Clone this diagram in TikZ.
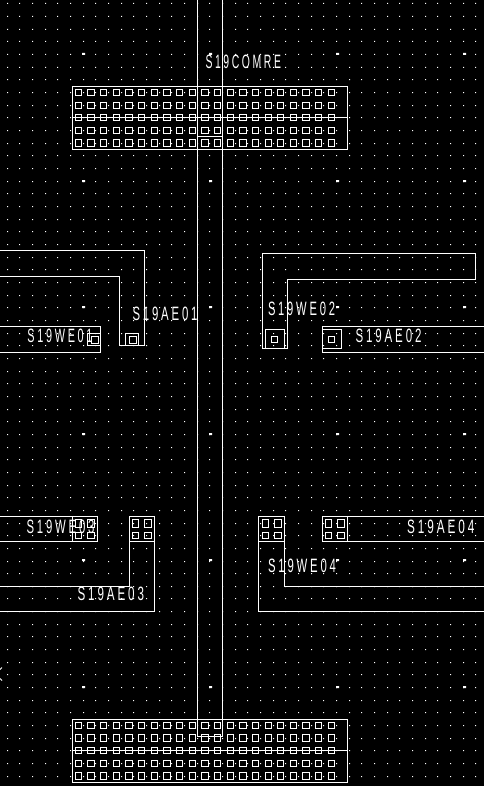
\documentclass[tikz,border=0pt]{standalone}
\usepackage{graphicx}
\usepackage{fontspec}
\setmainfont{Liberation Sans}
\newfontfamily\cadfont[LetterSpace=25]{Liberation Sans}
\tikzset{
  ln/.style={draw=white,line width=1bp,line cap=rect,line join=miter},
  lbl/.style={anchor=north west,inner sep=0pt,outer sep=0pt,text=white}
}
\newcommand{\fitlab}[3]{\resizebox{#1bp}{#2bp}{\fontsize{18}{18}\cadfont #3}}
\newcommand{\padrow}[4]{% x1 x2 y1 y2 : small rectangle
  \draw[ln] (#1,#3) rectangle (#2,#4);}
\begin{document}
\begin{tikzpicture}[x=1bp,y=-1bp]
\useasboundingbox (0,0) rectangle (484,786);
\fill[black] (0,0) rectangle (484,786);
% grid dots
\fill[white]
\foreach \i in {0,...,37}{\foreach \j in {0,...,61}{
  \pgfextra{\pgfmathsetmacro{\dx}{floor(7.3+12.66*\i)}\pgfmathsetmacro{\dy}{round(3.46+12.66*\j)}}
  (\dx,\dy) rectangle ++(1,1)
}};
% coarse grid
\fill[white]
\foreach \bx in {82,209,336,463}{\foreach \by in {53,180,306,433,559,686}{
  (\bx,\by) rectangle ++(3,2)
}};
\begin{scope}[shift={(0.5,0.5)}]
% central bus
\draw[ln] (197,-2) -- (197,736) -- (222,736) -- (222,-2);
\draw[ln] (197,136) -- (222,136);
% top and bottom arrays
\draw[ln] (72,86) rectangle (347,149);
\draw[ln] (72,117) -- (347,117);
\draw[ln] (72,719) rectangle (347,782);
\draw[ln] (72,750) -- (347,750);
\foreach \ya/\yb in {89/95,102/108,114/120,127/133,139/146,722/728,734/741,747/753,760/766,772/779}{
  \foreach \k in {0,...,20}{
    \pgfmathsetmacro{\xa}{floor(75.3+12.65*\k)}
    \pgfmathsetmacro{\xb}{floor(81.6+12.65*\k)}
    \padrow{\xa}{\xb}{\ya}{\yb}
  }
}
% AE01
\draw[ln] (-2,250) -- (144,250) -- (144,345) -- (119,345) -- (119,276) -- (-2,276);
\draw[ln] (125,345) -- (125,333) -- (138,333) -- (138,345);
\draw[ln] (129,336) rectangle (136,343);
% WE01
\draw[ln] (-2,326) -- (100,326) -- (100,352) -- (-2,352);
\draw[ln] (100,345) -- (87,345) -- (87,333) -- (100,333);
\draw[ln] (91,336) rectangle (98,343);
% WE02
\draw[ln] (262,253) -- (475,253) -- (475,279) -- (287,279) -- (287,348) -- (262,348) -- cycle;
\draw[ln] (265,348) -- (265,329) -- (284,329) -- (284,348);
\draw[ln] (271,336) rectangle (277,342);
% AE02
\draw[ln] (486,326) -- (322,326) -- (322,352) -- (486,352);
\draw[ln] (322,329) -- (341,329) -- (341,348) -- (322,348);
\draw[ln] (328,336) rectangle (334,342);
% WE03
\draw[ln] (-2,516) -- (97,516) -- (97,541) -- (-2,541);
\draw[ln] (72,516) -- (72,541);
\draw[ln] (75,519) rectangle (81,527);
\draw[ln] (87,519) rectangle (94,527);
\draw[ln] (75,532) rectangle (81,538);
\draw[ln] (87,532) rectangle (94,538);
% AE03
\draw[ln] (-2,586) -- (129,586) -- (129,516) -- (154,516) -- (154,611) -- (-2,611);
\draw[ln] (129,541) -- (154,541);
\draw[ln] (132,519) rectangle (138,527);
\draw[ln] (144,519) rectangle (151,527);
\draw[ln] (132,532) rectangle (138,538);
\draw[ln] (144,532) rectangle (151,538);
% WE04
\draw[ln] (486,611) -- (258,611) -- (258,516) -- (284,516) -- (284,586) -- (486,586);
\draw[ln] (258,541) -- (284,541);
\draw[ln] (262,519) rectangle (268,527);
\draw[ln] (274,519) rectangle (281,527);
\draw[ln] (262,532) rectangle (268,538);
\draw[ln] (274,532) rectangle (281,538);
% AE04
\draw[ln] (486,516) -- (322,516) -- (322,541) -- (486,541);
\draw[ln] (347,516) -- (347,541);
\draw[ln] (325,519) rectangle (331,527);
\draw[ln] (337,519) rectangle (344,527);
\draw[ln] (325,532) rectangle (331,538);
\draw[ln] (337,532) rectangle (344,538);
% cursor fragment at the left edge
\draw[white,line width=0.8bp] (1.5,667) -- (-0.5,669);
\draw[white,line width=0.8bp] (-0.5,678) -- (1.5,680);
\end{scope}
% labels
\node[lbl] (comre) at (205.5,55) {\fitlab{75.5}{13.5}{S19COMRE}};
\node[lbl] (ae01) at (132.5,307) {\fitlab{65}{13.5}{S19AE01}};
\node[lbl] (we01) at (27.5,329) {\fitlab{65}{13.5}{S19WE01}};
\node[lbl] (we02) at (268,302) {\fitlab{67}{13.5}{S19WE02}};
\node[lbl] (ae02) at (355.5,329) {\fitlab{66}{13.5}{S19AE02}};
\node[lbl] (we03) at (26.5,520) {\fitlab{68}{13.5}{S19WE03}};
\node[lbl] (ae03) at (77.5,587) {\fitlab{66.5}{13.5}{S19AE03}};
\node[lbl] (we04) at (268,559) {\fitlab{68}{13.5}{S19WE04}};
\node[lbl] (ae04) at (407,520) {\fitlab{67.5}{13.5}{S19AE04}};
\end{tikzpicture}
\end{document}
